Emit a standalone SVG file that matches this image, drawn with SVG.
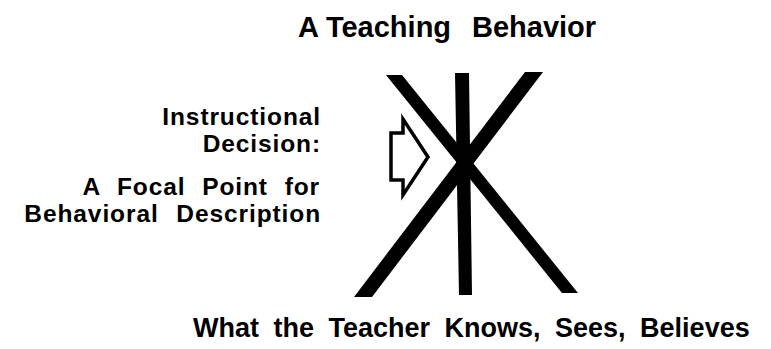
<svg xmlns="http://www.w3.org/2000/svg" width="771" height="349" viewBox="0 0 771 349">
<style>
.t{font-family:"Liberation Sans",Arial,Helvetica,sans-serif;font-weight:700;fill:#000}
.l{font-size:24.5px;text-anchor:end;letter-spacing:0.9px}
.bar{fill:#000}
.arr{fill:#fff;stroke:#000;stroke-width:3.5;stroke-linejoin:miter}
</style>
<rect width="771" height="349" fill="#fff"/>
<g id="top-label">
<text class="t" font-size="29" y="37"><tspan x="298">A Teaching</tspan><tspan x="472">Behavior</tspan></text>
</g>
<g id="left-label">
<text class="t l" x="321" y="125">Instructional</text>
<text class="t l" x="321" y="152">Decision:</text>
<text class="t l" x="320" y="195" word-spacing="9">A Focal Point for</text>
<text class="t l" x="321" y="222" word-spacing="10">Behavioral Description</text>
</g>
<g id="bottom-label">
<text class="t" font-size="27" x="193" y="337" word-spacing="7">What the Teacher Knows, Sees, Believes</text>
</g>
<g id="cross">
<polygon class="bar" points="386,75 402,75 578,293 562,293"/>
<polygon class="bar" points="525,72 543,72 372,297 354,297"/>
<polygon class="bar" points="455,73 469,73 472,295 459,295"/>
</g>
<g id="connectors">
<polygon class="arr" points="391,133 403,133 403,119 428,157 403,195 403,180 391,180"/>
</g>
</svg>
